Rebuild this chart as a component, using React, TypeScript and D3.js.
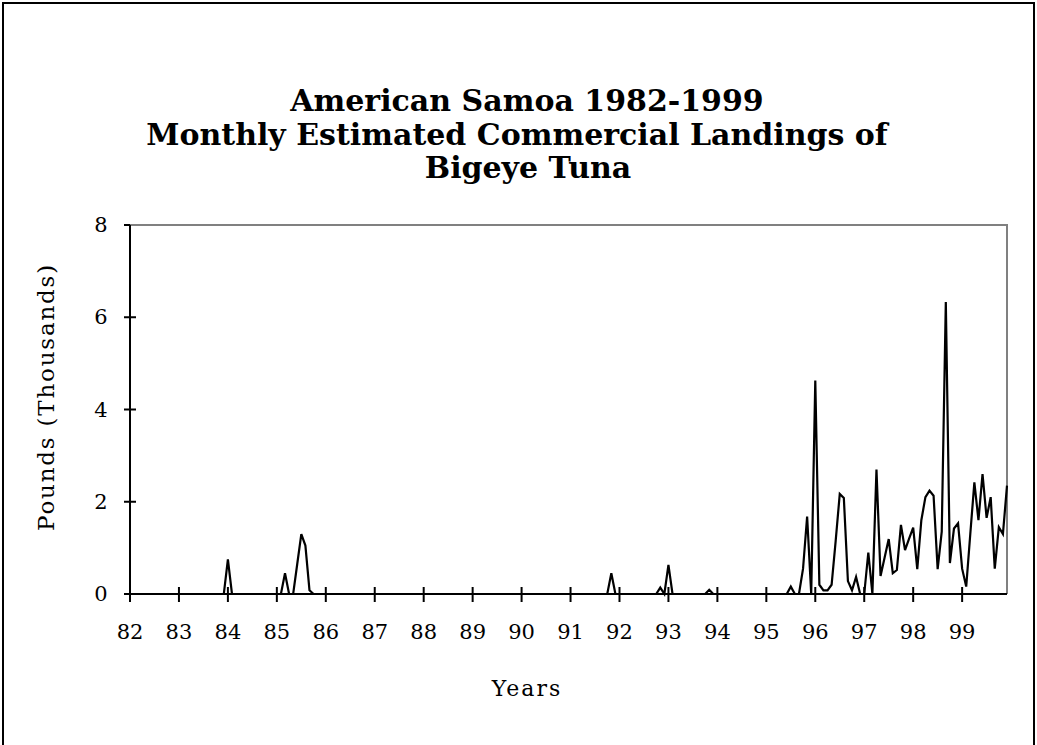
import React from "react";
import * as d3 from "d3";

// Years on the category axis (one label every 12 months)
const yearLabels = ["82", "83", "84", "85", "86", "87", "88", "89", "90", "91", "92", "93", "94", "95", "96", "97", "98", "99"];

// Monthly landings, thousands of pounds, one array per year
const y1982 = [0, 0, 0, 0, 0, 0, 0, 0, 0, 0, 0, 0];
const y1983 = [0, 0, 0, 0, 0, 0, 0, 0, 0, 0, 0, 0];
const y1984 = [0.75, 0, 0, 0, 0, 0, 0, 0, 0, 0, 0, 0];
const y1985 = [0, 0, 0.45, 0, 0, 0.65, 1.3, 1.05, 0.08, 0, 0, 0];
const y1986 = [0, 0, 0, 0, 0, 0, 0, 0, 0, 0, 0, 0];
const y1987 = [0, 0, 0, 0, 0, 0, 0, 0, 0, 0, 0, 0];
const y1988 = [0, 0, 0, 0, 0, 0, 0, 0, 0, 0, 0, 0];
const y1989 = [0, 0, 0, 0, 0, 0, 0, 0, 0, 0, 0, 0];
const y1990 = [0, 0, 0, 0, 0, 0, 0, 0, 0, 0, 0, 0];
const y1991 = [0, 0, 0, 0, 0, 0, 0, 0, 0, 0, 0.45, 0];
const y1992 = [0, 0, 0, 0, 0, 0, 0, 0, 0, 0, 0.14, 0];
const y1993 = [0.63, 0, 0, 0, 0, 0, 0, 0, 0, 0, 0.09, 0];
const y1994 = [0, 0, 0, 0, 0, 0, 0, 0, 0, 0, 0, 0];
const y1995 = [0, 0, 0, 0, 0, 0, 0.16, 0, 0, 0.55, 1.68, 0];
const y1996 = [4.63, 0.2, 0.08, 0.08, 0.2, 1.15, 2.17, 2.08, 0.28, 0.08, 0.37, 0];
const y1997 = [0, 0.9, 0, 2.7, 0.39, 0.79, 1.19, 0.45, 0.52, 1.5, 0.95, 1.2];
const y1998 = [1.44, 0.54, 1.6, 2.1, 2.24, 2.13, 0.54, 1.35, 6.33, 0.67, 1.42, 1.53];
const y1999 = [0.55, 0.16, 1.3, 2.42, 1.6, 2.6, 1.65, 2.1, 0.55, 1.45, 1.3, 2.35];

const monthly = [
  ...y1982, ...y1983, ...y1984, ...y1985, ...y1986, ...y1987,
  ...y1988, ...y1989, ...y1990, ...y1991, ...y1992, ...y1993,
  ...y1994, ...y1995, ...y1996, ...y1997, ...y1998, ...y1999,
];

const yTicks = [0, 2, 4, 6, 8];

const titleLines = [
  "American Samoa 1982-1999",
  "Monthly Estimated Commercial Landings of",
  "Bigeye Tuna",
];
// the middle line sits a little left of centre in the original
const titleCentres = [527, 517, 528];

export default function App() {
  const width = 1037;
  const height = 745;
  const margin = { left: 130, right: 1007, top: 225, bottom: 594 };

  const x = d3.scaleLinear().domain([0, monthly.length - 1]).range([margin.left, margin.right]);
  const y = d3.scaleLinear().domain([0, 8]).range([margin.bottom, margin.top]);

  const line = d3
    .line<number>()
    .x((_, i) => x(i))
    .y((d) => y(d));

  const serif = "'DejaVu Serif', serif";

  return (
    <svg width={width} height={height} style={{ position: "absolute", left: 0, top: 0, background: "#fff" }}>
      <rect x={3} y={3} width={1031} height={800} fill="#fff" stroke="#000" strokeWidth={2} />

      {titleLines.map((t, i) => (
        <text
          key={t}
          x={titleCentres[i]}
          y={111 + i * 33.5}
          textAnchor="middle"
          fontFamily={serif}
          fontWeight="bold"
          fontSize={30}
        >
          {t}
        </text>
      ))}

      {/* plot frame: grey top and right */}
      <path
        d={`M${margin.left},${margin.top}H${margin.right}V${margin.bottom}`}
        fill="none"
        stroke="#808080"
        strokeWidth={2}
      />

      {/* y axis */}
      <line x1={margin.left} x2={margin.left} y1={margin.top} y2={margin.bottom} stroke="#000" strokeWidth={2} />
      {yTicks.map((t) => (
        <g key={t}>
          <line
            x1={margin.left - 6}
            x2={t === 8 ? margin.left : margin.left + 6}
            y1={y(t)}
            y2={y(t)}
            stroke="#000"
            strokeWidth={2}
          />
          <text x={101} y={y(t) + 7} textAnchor="middle" fontFamily={serif} fontSize={21}>
            {t}
          </text>
        </g>
      ))}

      {/* x axis */}
      <line x1={margin.left} x2={margin.right} y1={margin.bottom} y2={margin.bottom} stroke="#000" strokeWidth={2} />
      {yearLabels.map((lab, k) => (
        <g key={lab}>
          <line x1={x(k * 12)} x2={x(k * 12)} y1={margin.bottom - 7} y2={margin.bottom + 8} stroke="#000" strokeWidth={2} />
          <text x={x(k * 12)} y={639} textAnchor="middle" fontFamily={serif} fontSize={21}>
            {lab}
          </text>
        </g>
      ))}

      <path d={line(monthly) ?? ""} fill="none" stroke="#000" strokeWidth={2.2} strokeLinejoin="miter" />

      <text x={527} y={696} textAnchor="middle" fontFamily={serif} fontSize={22} letterSpacing={2}>
        Years
      </text>
      <text
        transform={`translate(54,397) rotate(-90)`}
        textAnchor="middle"
        fontFamily={serif}
        fontSize={23}
        letterSpacing={1.8}
      >
        Pounds (Thousands)
      </text>
    </svg>
  );
}
